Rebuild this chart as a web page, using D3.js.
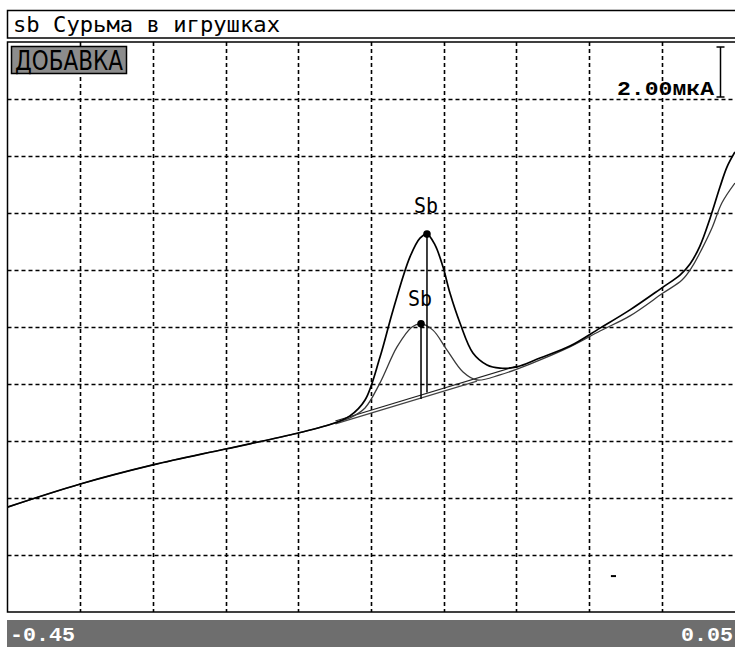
<!DOCTYPE html>
<html><head><meta charset="utf-8">
<script src="https://cdn.jsdelivr.net/npm/d3@7"></script>
<style>html,body{margin:0;padding:0;background:#fff;}svg{display:block;}</style>
</head><body>
<svg id="c" width="735" height="647"></svg>
<script>
// ---- data (potential in V, current in µA) ----
const title = "sb Сурьма в игрушках";
const modeLabel = "ДОБАВКА";
const scaleLabel = "2.00мкА";
const xTickLabels = ["-0.45", "0.05"];
const xGridTicks = [-0.40, -0.35, -0.30, -0.25, -0.20, -0.15, -0.10, -0.05, 0.00];
const yGridTicks = [2, 4, 6, 8, 10, 12, 14, 16, 18];

// shared left part
const commonV = [-0.450, -0.400, -0.350, -0.300, -0.250, -0.225];
const commonI = [3.68, 4.49, 5.16, 5.72, 6.28, 6.63];

// addition (black) curve
const addV = [-0.2145, -0.2041, -0.1938, -0.1848, -0.1732, -0.1663, -0.1615, -0.1560, -0.1505, -0.1457, -0.1388, -0.1299, -0.1202, -0.1113, -0.0996, -0.0838, -0.0632, -0.0425, -0.0219, 0.0008, 0.0125, 0.0194, 0.0262, 0.0331, 0.0400, 0.0448, 0.0503];
const addI = [6.88, 7.44, 8.95, 10.60, 12.46, 13.12, 13.26, 12.88, 12.11, 11.19, 10.14, 9.09, 8.67, 8.56, 8.60, 8.91, 9.33, 9.96, 10.60, 11.40, 11.82, 12.21, 12.84, 13.80, 14.91, 15.61, 16.14];

// sample (gray) curve
const smpV = [-0.2145, -0.2041, -0.1938, -0.1821, -0.1718, -0.1656, -0.1574, -0.1477, -0.1367, -0.1271, -0.1113, -0.0907, -0.0632, -0.0425, -0.0219, 0.0008, 0.0139, 0.0207, 0.0276, 0.0345, 0.0413, 0.0503];
const smpI = [6.81, 7.16, 8.04, 9.30, 10.00, 10.11, 9.89, 9.19, 8.42, 8.14, 8.32, 8.70, 9.30, 9.86, 10.39, 11.19, 11.65, 12.10, 12.74, 13.47, 14.35, 15.05];

// baselines and peaks
const addBaseV = [-0.2245, -0.0996];
const addBaseI = [6.70, 8.63];
const smpBaseV = [-0.2245, -0.1271];
const smpBaseI = [6.60, 8.10];
const peakLabels = ["Sb", "Sb"];
const peakV = [-0.1615, -0.1656];
const peakI = [13.26, 10.11];
const peakBaseI = [7.70, 7.47];
const markV = [-0.0350, -0.0315];
const markI = 1.26;

// ---- drawing ----
const svg = d3.select("#c");
const L = 7.5, R = 734.5, T = 42, B = 612;
const x = d3.scaleLinear().domain([-0.45, 0.05]).range([L, R]);
const y = d3.scaleLinear().domain([0, 20]).range([B, T]);

// title box
svg.append("rect").attr("x", 7.5).attr("y", 10.5).attr("width", 740).attr("height", 27.5)
  .attr("fill", "none").attr("stroke", "#000").attr("stroke-width", 1.5);
svg.append("text").attr("x", 13).attr("y", 32).attr("font-family", "DejaVu Sans Mono")
  .attr("font-size", 21).attr("textLength", 267).attr("lengthAdjust", "spacingAndGlyphs")
  .attr("fill", "#000").text(title);

// grid
const grid = svg.append("g").attr("stroke", "#000").attr("stroke-width", 1.6).attr("stroke-dasharray", "4,3");
grid.selectAll("line.v").data(xGridTicks).join("line").attr("class", "v")
  .attr("x1", d => Math.round(x(d)) + 0.5).attr("x2", d => Math.round(x(d)) + 0.5)
  .attr("y1", T).attr("y2", B);
grid.selectAll("line.h").data(yGridTicks).join("line").attr("class", "h")
  .attr("x1", L).attr("x2", R + 2)
  .attr("y1", d => Math.round(y(d)) + 0.5).attr("y2", d => Math.round(y(d)) + 0.5);

// plot frame
svg.append("rect").attr("x", L).attr("y", T).attr("width", 740).attr("height", B - T)
  .attr("fill", "none").attr("stroke", "#000").attr("stroke-width", 1.5);

// curves
const line = d3.line().x(d => x(d[0])).y(d => y(d[1])).curve(d3.curveCatmullRom);
const common = commonV.map((v, i) => [v, commonI[i]]);
const addPts = common.concat(addV.map((v, i) => [v, addI[i]]));
const smpPts = common.concat(smpV.map((v, i) => [v, smpI[i]]));

svg.append("path").attr("d", line(addBaseV.map((v, i) => [v, addBaseI[i]])))
  .attr("fill", "none").attr("stroke", "#222").attr("stroke-width", 1.2);
svg.append("path").attr("d", line(smpBaseV.map((v, i) => [v, smpBaseI[i]])))
  .attr("fill", "none").attr("stroke", "#444").attr("stroke-width", 1.2);
svg.append("path").attr("d", line(smpPts)).attr("fill", "none").attr("stroke", "#3a3a3a").attr("stroke-width", 1.3);
svg.append("path").attr("d", line(addPts)).attr("fill", "none").attr("stroke", "#000").attr("stroke-width", 1.7);

// peak markers
peakV.forEach((v, i) => {
  svg.append("line").attr("x1", x(v)).attr("x2", x(v)).attr("y1", y(peakI[i])).attr("y2", y(peakBaseI[i]))
    .attr("stroke", "#000").attr("stroke-width", 1.5);
  svg.append("circle").attr("cx", x(v)).attr("cy", y(peakI[i])).attr("r", 3.8).attr("fill", "#000");
  svg.append("text").attr("x", x(v) - 1).attr("y", y(peakI[i]) - (i === 0 ? 21 : 18))
    .attr("text-anchor", "middle").attr("font-family", "DejaVu Sans Mono").attr("font-size", 21)
    .attr("textLength", 24).attr("lengthAdjust", "spacingAndGlyphs").attr("fill", "#000").text(peakLabels[i]);
});

// small mark
svg.append("line").attr("x1", x(markV[0])).attr("x2", x(markV[1])).attr("y1", y(markI)).attr("y2", y(markI))
  .attr("stroke", "#000").attr("stroke-width", 2);

// mode label
svg.append("rect").attr("x", 11.5).attr("y", 46.5).attr("width", 115).attr("height", 27)
  .attr("fill", "#8c8c8c").attr("stroke", "#000").attr("stroke-width", 1.5);
svg.append("text").attr("x", 15).attr("y", 70).attr("font-family", "DejaVu Sans Condensed, DejaVu Sans")
  .attr("font-size", 26).attr("textLength", 108).attr("lengthAdjust", "spacingAndGlyphs")
  .attr("fill", "#000").text(modeLabel);

// scale bar
const sx = 720.5, sTop = y(20) + 5, sBot = y(18) - 2;
svg.append("line").attr("x1", sx).attr("x2", sx).attr("y1", sTop).attr("y2", sBot).attr("stroke", "#000").attr("stroke-width", 1.5);
svg.append("line").attr("x1", sx - 4).attr("x2", sx + 4).attr("y1", sTop).attr("y2", sTop).attr("stroke", "#000").attr("stroke-width", 1.5);
svg.append("line").attr("x1", sx - 4).attr("x2", sx + 4).attr("y1", sBot).attr("y2", sBot).attr("stroke", "#000").attr("stroke-width", 1.5);
svg.append("text").attr("x", 714).attr("y", 95).attr("text-anchor", "end").attr("font-family", "Liberation Mono, DejaVu Sans Mono")
  .attr("font-weight", "bold").attr("font-size", 20).attr("textLength", 97).attr("lengthAdjust", "spacingAndGlyphs")
  .attr("fill", "#000").text(scaleLabel);

// bottom bar
svg.append("rect").attr("x", 7).attr("y", 620).attr("width", 728).attr("height", 27).attr("fill", "#6e6e6e");
svg.append("text").attr("x", 10).attr("y", 641).attr("font-family", "Liberation Mono, DejaVu Sans Mono")
  .attr("font-weight", "bold").attr("font-size", 21).attr("textLength", 65).attr("lengthAdjust", "spacingAndGlyphs")
  .attr("fill", "#fff").text(xTickLabels[0]);
svg.append("text").attr("x", 733).attr("y", 641).attr("text-anchor", "end").attr("font-family", "Liberation Mono, DejaVu Sans Mono")
  .attr("font-weight", "bold").attr("font-size", 21).attr("textLength", 52).attr("lengthAdjust", "spacingAndGlyphs")
  .attr("fill", "#fff").text(xTickLabels[1]);
</script>
</body></html>
